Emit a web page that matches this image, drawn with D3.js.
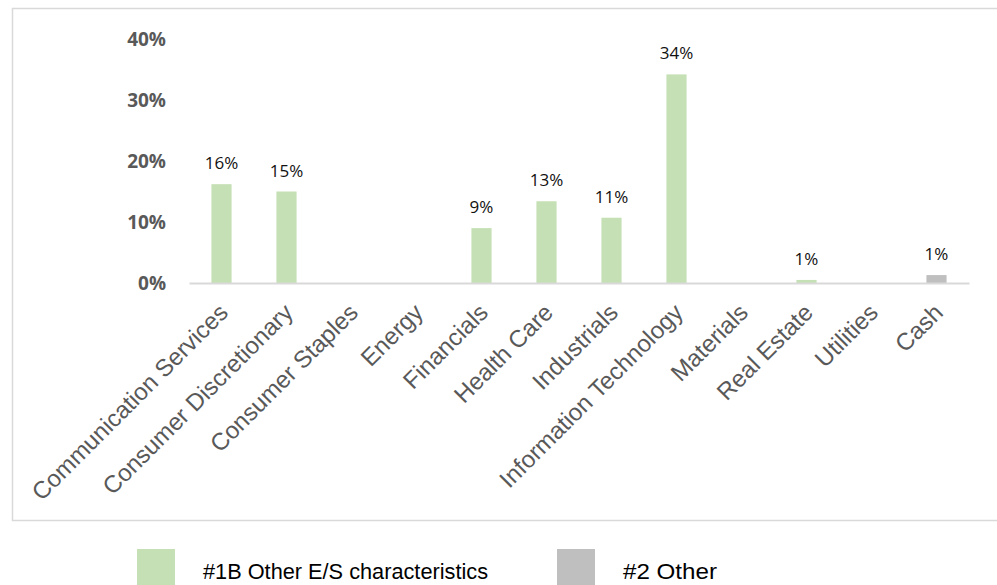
<!DOCTYPE html>
<html>
<head>
<meta charset="utf-8">
<script src="https://cdn.jsdelivr.net/npm/d3@7"></script>
<style>
  html, body { margin: 0; padding: 0; background: #ffffff; }
  svg { display: block; }
</style>
</head>
<body>
<div id="chart"></div>
<script>
const categories = [
  "Communication Services", "Consumer Discretionary", "Consumer Staples", "Energy",
  "Financials", "Health Care", "Industrials", "Information Technology",
  "Materials", "Real Estate", "Utilities", "Cash"
];
const otherESValues = [0.162, 0.150, 0, 0, 0.090, 0.134, 0.107, 0.342, 0, 0.005, 0, 0];
const otherValues   = [0, 0, 0, 0, 0, 0, 0, 0, 0, 0, 0, 0.013];
const yTicks = [0, 0.1, 0.2, 0.3, 0.4];
const seriesNames = ["#1B Other E/S characteristics", "#2 Other"];
const seriesColors = ["#c5e0b4", "#bfbfbf"];

const W = 997, H = 585;
const svg = d3.select("#chart").append("svg").attr("width", W).attr("height", H);

// outer chart border
svg.append("rect")
  .attr("x", 12.5).attr("y", 8.5).attr("width", 1000).attr("height", 512)
  .attr("fill", "none").attr("stroke", "#d9d9d9").attr("stroke-width", 1.5);

const x = d3.scaleBand().domain(categories).range([189, 969]).paddingInner(0.69).paddingOuter(0.345);
const y = d3.scaleLinear().domain([0, 0.4]).range([283, 39]);

// y axis labels
const yAxis = d3.axisLeft(y).tickValues(yTicks).tickFormat(d3.format(".0%")).tickSize(0).tickPadding(0);
const yg = svg.append("g").attr("transform", "translate(166,0)").call(yAxis);
yg.select(".domain").remove();
yg.selectAll("text")
  .attr("font-family", "'Open Sans', sans-serif")
  .attr("font-weight", "bold")
  .attr("font-size", 19)
  .attr("fill", "#595959");

// bars
const series = [otherESValues, otherValues];
series.forEach((vals, si) => {
  const g = svg.append("g");
  const data = categories.map((c, i) => ({ c, v: vals[i] })).filter(d => d.v > 0);
  g.selectAll("rect").data(data).join("rect")
    .attr("x", d => x(d.c))
    .attr("y", d => y(d.v))
    .attr("width", x.bandwidth())
    .attr("height", d => y(0) - y(d.v))
    .attr("fill", seriesColors[si]);
  g.selectAll("text").data(data).join("text")
    .attr("x", d => x(d.c) + x.bandwidth() / 2)
    .attr("y", d => y(d.v) - 15)
    .attr("text-anchor", "middle")
    .attr("font-family", "'Open Sans', sans-serif")
    .attr("font-size", 17)
    .attr("fill", "#111")
    .text(d => Math.round(d.v * 100) + "%");
});

// x axis
const xAxis = d3.axisBottom(x).tickSize(0).tickPadding(0);
const xg = svg.append("g").attr("transform", "translate(0,283)").call(xAxis);
xg.select(".domain").attr("stroke", "#d9d9d9").attr("stroke-width", 2);
xg.selectAll("text")
  .attr("font-family", "'Liberation Sans', Arial, sans-serif")
  .attr("font-size", 24)
  .attr("fill", "#595959")
  .attr("text-anchor", "end")
  .attr("dy", null)
  .attr("y", 0)
  .attr("transform", "translate(8,31) rotate(-45)");

// legend
const legendX = [137, 557];
const legendTextW = [285, 94];
seriesNames.forEach((name, i) => {
  svg.append("rect")
    .attr("x", legendX[i]).attr("y", 549).attr("width", 38).attr("height", 38)
    .attr("fill", seriesColors[i]);
  svg.append("text")
    .attr("x", legendX[i] + 66).attr("y", 579)
    .attr("font-family", "'Liberation Sans', Arial, sans-serif")
    .attr("font-size", 22)
    .attr("textLength", legendTextW[i])
    .attr("lengthAdjust", "spacingAndGlyphs")
    .attr("fill", "#000")
    .text(name);
});
</script>
</body>
</html>
